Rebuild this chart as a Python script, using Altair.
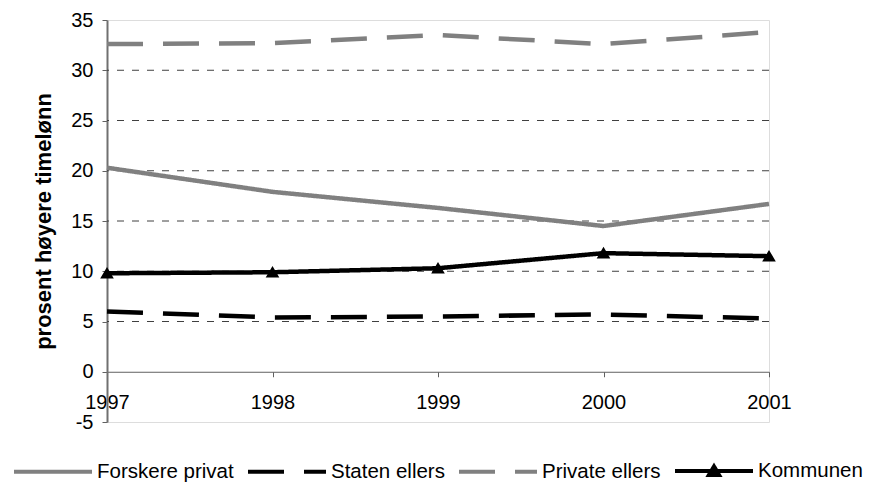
import altair as alt
import pandas as pd

years = [1997, 1998, 1999, 2000, 2001]
series_names = ["Forskere privat", "Staten ellers", "Private ellers", "Kommunen"]
forskere_privat = [20.3, 17.9, 16.3, 14.5, 16.7]
staten_ellers = [6.0, 5.4, 5.5, 5.7, 5.3]
private_ellers = [32.6, 32.7, 33.5, 32.6, 33.8]
kommunen = [9.8, 9.9, 10.3, 11.8, 11.5]
grid_values = [5, 10, 15, 20, 25, 30]
y_ticks = [-5, 0, 5, 10, 15, 20, 25, 30, 35]

values = [forskere_privat, staten_ellers, private_ellers, kommunen]
rows = []
for name, vals in zip(series_names, values):
    for yr, v in zip(years, vals):
        rows.append({"year": yr, "value": v, "series": name})
df = pd.DataFrame(rows)
grid_df = pd.DataFrame({"g": grid_values})

FONT = "Liberation Sans"
colors = ["#808080", "#000000", "#808080", "#000000"]
dashes = [[1, 0], [36, 20], [36, 20], [1, 0]]
tri_path = "M-1,0H1M-0.13,0.1L0,-0.12L0.13,0.1Z"
shapes = ["stroke", "stroke", "stroke", tri_path]

xscale = alt.Scale(domain=[1997, 2001], nice=False, zero=False)
yscale = alt.Scale(domain=[-5, 35], nice=False)

x_axis = alt.Axis(
    title=None,
    values=years,
    format="d",
    offset=-50.25,
    tickSize=5,
    tickColor="#606060",
    domainColor="#606060",
    domainWidth=1,
    labelFont=FONT,
    labelFontSize=20,
    labelColor="#000000",
    labelPadding=16,
    labelFlush=False,
    grid=False,
)
y_axis = alt.Axis(
    title="prosent høyere timelønn",
    values=y_ticks,
    labelExpr="'' + datum.value",
    tickSize=5,
    tickColor="#606060",
    domainColor="#707070",
    domainWidth=2,
    labelFont=FONT,
    labelFontSize=20,
    labelColor="#000000",
    labelPadding=9,
    titleFont=FONT,
    titleFontSize=22,
    titleFontWeight="bold",
    titleColor="#000000",
    titlePadding=15,
    grid=False,
)

legend = alt.Legend(
    title=None,
    orient="none",
    legendX=-95,
    legendY=410,
    direction="horizontal",
    symbolSize=6084,
    symbolStrokeWidth=4,
    labelFont=FONT,
    labelFontSize=20.5,
    labelColor="#000000",
    labelOffset=3,
    columnPadding=6,
    padding=0,
    labelLimit=400,
)

color_enc = alt.Color(
    "series:N",
    scale=alt.Scale(domain=series_names, range=colors),
    sort=series_names,
    legend=legend,
)

lines = alt.Chart(df).mark_line(strokeWidth=4.5).encode(
    x=alt.X("year:Q", scale=xscale, axis=x_axis),
    y=alt.Y("value:Q", scale=yscale, axis=y_axis),
    color=color_enc,
    strokeDash=alt.StrokeDash(
        "series:N",
        scale=alt.Scale(domain=series_names, range=dashes),
        sort=series_names,
        legend=legend,
    ),
)

grid = alt.Chart(grid_df).mark_rule(
    color="#404040", strokeWidth=1, strokeDash=[7, 8]
).encode(y=alt.Y("g:Q", scale=yscale, axis=y_axis))

points = alt.Chart(df).mark_point(filled=True, size=11000).encode(
    x=alt.X("year:Q", scale=xscale, axis=x_axis),
    y=alt.Y("value:Q", scale=yscale, axis=y_axis),
    color=color_enc,
    shape=alt.Shape(
        "series:N",
        scale=alt.Scale(domain=series_names, range=shapes),
        sort=series_names,
        legend=legend,
    ),
    opacity=alt.condition(alt.datum.series == "Kommunen", alt.value(1), alt.value(0)),
)

chart = alt.layer(grid, lines, points).properties(
    width=662,
    height=402,
    autosize=alt.AutoSizeParams(type="none"),
    padding={"left": 99, "top": 12, "right": 99, "bottom": 60},
).configure_view(
    stroke="#808080", strokeWidth=2
).configure(font=FONT)

chart.save("out.html", embed_options={"renderer": "svg", "actions": False})
